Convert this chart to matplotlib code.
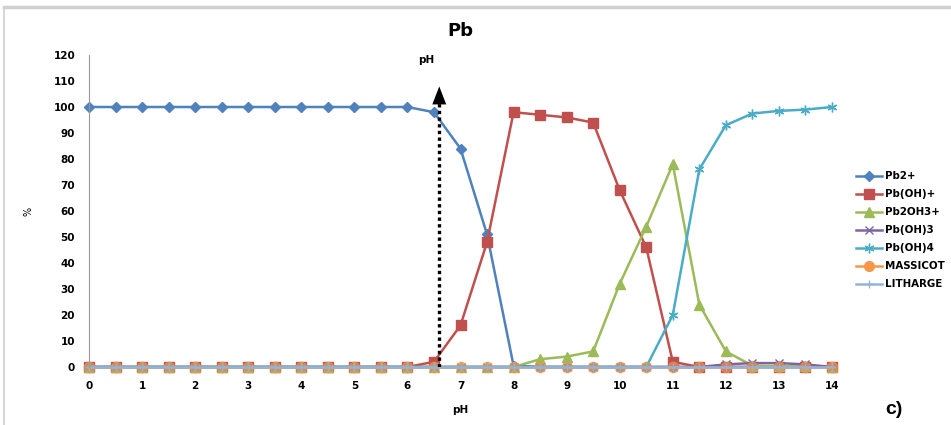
import matplotlib.pyplot as plt
import numpy as np
from matplotlib.lines import Line2D

# pH steps (0 to 14 by 0.5)
ph = [0, 0.5, 1, 1.5, 2, 2.5, 3, 3.5, 4, 4.5, 5, 5.5, 6, 6.5, 7, 7.5,
      8, 8.5, 9, 9.5, 10, 10.5, 11, 11.5, 12, 12.5, 13, 13.5, 14]

# species distribution, %
pb2 = [100, 100, 100, 100, 100, 100, 100, 100, 100, 100, 100, 100, 100, 98, 84, 51,
       0.5, 0, 0, 0, 0, 0, 0, 0, 0, 0, 0, 0, 0]
pboh = [0, 0, 0, 0, 0, 0, 0, 0, 0, 0, 0, 0, 0, 2, 16, 48,
        98, 97, 96, 94, 68, 46, 2, 0, 0, 0, 0, 0, 0]
pb2oh3 = [0, 0, 0, 0, 0, 0, 0, 0, 0, 0, 0, 0, 0, 0, 0, 0,
          0, 3, 4, 6, 32, 54, 78, 24, 6, 0.5, 0.3, 0.2, 0]
pboh3 = [0, 0, 0, 0, 0, 0, 0, 0, 0, 0, 0, 0, 0, 0, 0, 0,
         0, 0, 0, 0, 0, 0, 0, 0, 1, 1.5, 1.5, 1, 0]
pboh4 = [0, 0, 0, 0, 0, 0, 0, 0, 0, 0, 0, 0, 0, 0, 0, 0,
         0, 0, 0, 0, 0, 0, 20, 76, 93, 97.5, 98.5, 99, 100]
massicot = [0] * len(ph)
litharge = [0] * len(ph)

ph_marker = 6.6

fig = plt.figure(figsize=(9.51, 4.25), dpi=100)
ax = fig.add_axes([89 / 951, 1 - 367 / 425, (832 - 89) / 951, (367 - 55) / 425])

kw = dict(lw=1.8, clip_on=False)
h = []
h += ax.plot(ph, pb2, color='#4F81BD', marker='D', ms=5, label='Pb2+', **kw)
h += ax.plot(ph, pboh, color='#C0504D', marker='s', ms=7, label='Pb(OH)+', **kw)
h += ax.plot(ph, pb2oh3, color='#9BBB59', marker='^', ms=7, label='Pb2OH3+', **kw)
h += ax.plot(ph, pboh3, color='#8064A2', marker='x', ms=6, mew=1, label='Pb(OH)3', **kw)
h += ax.plot(ph, pboh4, color='#4BACC6', marker=(6, 2, 0), ms=7, mew=1, label='Pb(OH)4', **kw)
ax.plot(ph, massicot, color='#F79646', marker='o', ms=7.5, alpha=0.6, **kw)
h.append(Line2D([], [], color='#F79646', marker='o', ms=7, lw=1.8, label='MASSICOT'))
h += ax.plot(ph, litharge, color='#95B3D7', marker='+', ms=6, mew=1, label='LITHARGE', **kw)

# dotted pH arrow
ax.vlines(ph_marker, 0, 102, colors='black', linestyles=(0, (1, 1)), lw=2.4, zorder=5)
ax.annotate('', xy=(ph_marker, 109), xytext=(ph_marker, 101),
            arrowprops=dict(arrowstyle='-|>,head_width=0.5,head_length=1.3',
                            color='black', lw=0))
ax.text(6.35, 118, 'pH', ha='center', va='center', fontsize=7.5, fontweight='bold')

ax.set_xlim(0, 14)
ax.set_ylim(0, 120)
ax.set_xticks(range(0, 15))
ax.set_yticks(range(0, 121, 10))
ax.tick_params(length=0, labelsize=7.5, pad=10)
for lab in ax.get_xticklabels() + ax.get_yticklabels():
    lab.set_fontweight('bold')
for s in ['top', 'right', 'bottom']:
    ax.spines[s].set_visible(False)
ax.spines['left'].set_color('#999999')
ax.spines['left'].set_linewidth(0.8)

ax.set_xlabel('pH', fontsize=7.5, fontweight='bold', labelpad=10)
ax.set_ylabel('%', fontsize=7, labelpad=14)
ax.set_title('Pb', fontsize=13, fontweight='bold', pad=14)

leg = fig.legend(handles=h, loc='upper left', bbox_to_anchor=(852 / 951, 1 - 167 / 425),
                 frameon=False, fontsize=7.4, handlelength=2.5, handletextpad=0.3,
                 labelspacing=0.78, borderaxespad=0)
for t in leg.get_texts():
    t.set_fontweight('bold')

fig.text(885 / 951, 1 - 410 / 425, 'c)', fontsize=14, fontweight='bold',
         family='Liberation Sans', ha='left', va='center')

# outer chart frame
fig.add_artist(Line2D([4 / 951, 1], [1 - 7 / 425] * 2, color='#d0d0d0', lw=2.5))
fig.add_artist(Line2D([4 / 951] * 2, [0, 1 - 7 / 425], color='#d0d0d0', lw=1.2))

fig.savefig('out.png', dpi=100)
